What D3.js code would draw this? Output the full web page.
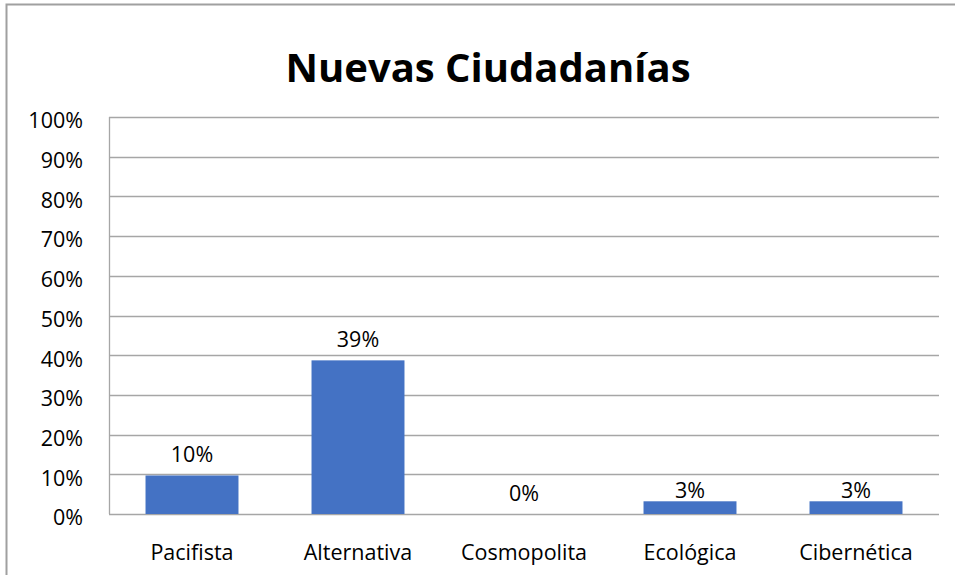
<!DOCTYPE html>
<html>
<head>
<meta charset="utf-8">
<script src="https://cdn.jsdelivr.net/npm/d3@7"></script>
<style>
  body { margin: 0; background: #fff; }
  text { font-family: "Open Sans", "Noto Sans", sans-serif; fill: #000; }
</style>
</head>
<body>
<div id="chart"></div>
<script>
// chart data
var title = "Nuevas Ciudadanías"
var categories = ["Pacifista", "Alternativa", "Cosmopolita", "Ecológica", "Cibernética"]
var values = [0.097, 0.387, 0, 0.032, 0.032]
var yTicks = [0, 0.1, 0.2, 0.3, 0.4, 0.5, 0.6, 0.7, 0.8, 0.9, 1]

var width = 955, height = 575
var margin = {top: 117, left: 109, right: 16, bottom: 61}
var barColor = "#4472C4"
var gridColor = "#a6a6a6"
var labelSize = "21.5px"

var svg = d3.select("#chart").append("svg")
  .attr("width", width)
  .attr("height", height)

// outer chart border
svg.append("rect")
  .attr("x", 6.5).attr("y", 4.5)
  .attr("width", width + 10).attr("height", height + 10)
  .attr("fill", "none")
  .attr("stroke", "#a0a0a0")
  .attr("stroke-width", 2)

var x = d3.scaleBand()
  .domain(categories)
  .range([margin.left, width - margin.right])
  .paddingInner(0.44)
  .paddingOuter(0.22)

var y = d3.scaleLinear()
  .domain([0, 1])
  .range([height - margin.bottom, margin.top])

var fmt = d3.format(".0%")

// gridlines
svg.append("g")
  .selectAll("line")
  .data(yTicks)
  .enter().append("line")
  .attr("x1", margin.left).attr("x2", width - margin.right)
  .attr("y1", function(d) { return Math.round(y(d)) + 0.5 })
  .attr("y2", function(d) { return Math.round(y(d)) + 0.5 })
  .attr("stroke", gridColor)
  .attr("stroke-width", 1.3)

// left axis line
svg.append("line")
  .attr("x1", margin.left + 0.5).attr("x2", margin.left + 0.5)
  .attr("y1", y(1)).attr("y2", y(0))
  .attr("stroke", gridColor)
  .attr("stroke-width", 1.3)

// y axis labels
var yAxis = d3.axisLeft(y).tickValues(yTicks).tickFormat(fmt).tickSize(0).tickPadding(26)
var gy = svg.append("g")
  .attr("transform", "translate(" + margin.left + ",4)")
  .call(yAxis)
gy.select(".domain").remove()
gy.selectAll("text")
  .style("font-size", labelSize)
  .style("font-family", "'Open Sans', sans-serif")

// x axis labels
var xAxis = d3.axisBottom(x).tickSize(0).tickPadding(31)
var gx = svg.append("g")
  .attr("transform", "translate(0," + y(0) + ")")
  .call(xAxis)
gx.select(".domain").remove()
gx.selectAll("text")
  .style("font-size", labelSize)
  .style("font-family", "'Open Sans', sans-serif")

// bars
svg.append("g")
  .selectAll("rect")
  .data(values)
  .enter().append("rect")
  .attr("x", function(d, i) { return x(categories[i]) })
  .attr("y", function(d) { return y(d) })
  .attr("width", x.bandwidth())
  .attr("height", function(d) { return y(0) - y(d) })
  .attr("fill", barColor)

// value labels (small non-zero bars have their label tucked close to the bar)
svg.append("g")
  .selectAll("text")
  .data(values)
  .enter().append("text")
  .attr("x", function(d, i) { return x(categories[i]) + x.bandwidth() / 2 })
  .attr("y", function(d) { return y(d) - (d > 0 && d < 0.05 ? 3.5 : 13.5) })
  .attr("text-anchor", "middle")
  .style("font-size", labelSize)
  .text(function(d) { return fmt(d) })

// title
svg.append("text")
  .attr("x", 488)
  .attr("y", 82)
  .attr("text-anchor", "middle")
  .style("font-size", "40px")
  .style("font-weight", "bold")
  .text(title)
</script>
</body>
</html>
